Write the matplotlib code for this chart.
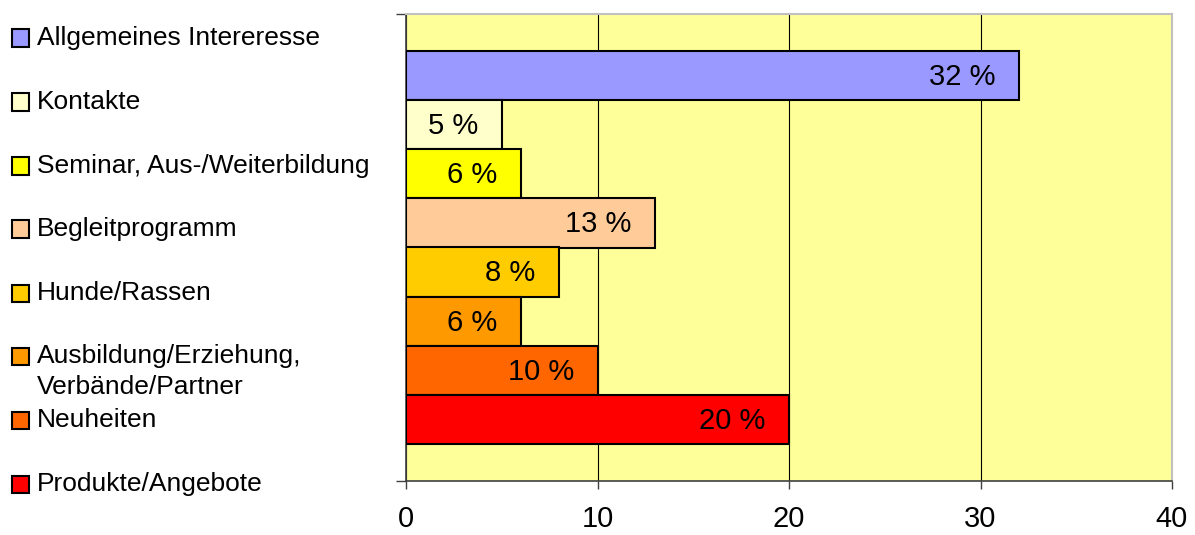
import matplotlib
matplotlib.use("Agg")
import matplotlib.pyplot as plt
from matplotlib.patches import Rectangle

plt.rcParams['font.family'] = ['Liberation Sans', 'DejaVu Sans']

categories = ["Allgemeines Intereresse", "Kontakte", "Seminar, Aus-/Weiterbildung",
              "Begleitprogramm", "Hunde/Rassen", "Ausbildung/Erziehung,\nVerbände/Partner",
              "Neuheiten", "Produkte/Angebote"]
values = [32, 5, 6, 13, 8, 6, 10, 20]
colors = ["#9999FF", "#FFFFCC", "#FFFF00", "#FFCC99", "#FFCC00", "#FF9900", "#FF6600", "#FF0000"]
xticks = [0, 10, 20, 30, 40]

W, H = 1195, 535
fig = plt.figure(figsize=(W / 100, H / 100), dpi=100)
ax = fig.add_axes([406 / W, (H - 481) / H, (1172 - 406) / W, (481 - 14) / H])
ax.set_facecolor("#FFFF99")

n = len(values)
gap = 1.5
ax.set_ylim(0, n + gap)
ax.set_xlim(0, 40)
for i, (v, c) in enumerate(zip(values, colors)):
    yc = gap / 2 + (n - 1 - i) + 0.5
    ax.barh(yc, v, height=1.0, color=c, edgecolor="black", linewidth=1.5, zorder=3)
    ax.annotate(f"{v} %", xy=(v, yc), xytext=(-17, -1), textcoords="offset points",
                ha="right", va="center", fontsize=21, zorder=4)

ax.set_xticks(xticks)
ax.set_xticklabels([str(t) for t in xticks], fontsize=21)
ax.xaxis.grid(True, color="black", linewidth=0.8, zorder=0)
ax.set_axisbelow(True)
ax.tick_params(axis="x", direction="out", length=6, width=1, color="#404040", pad=11)
ax.set_yticks([0, n + gap])
ax.set_yticklabels([])
ax.tick_params(axis="y", direction="out", length=7, width=1, color="#404040")
for s in ["left", "bottom"]:
    ax.spines[s].set_color("#404040")
    ax.spines[s].set_linewidth(1.2)
for s in ["top", "right"]:
    ax.spines[s].set_color("#C0C0C0")
    ax.spines[s].set_linewidth(1.5)

# legend (manual)
leg_y = [38, 102, 166, 229, 293, 356, 420, 484]
line_step = 31
for lab, c, y in zip(categories, colors, leg_y):
    fig.add_artist(Rectangle((12 / W, (H - y - 8.5) / H), 17 / W, 17 / H,
                             transform=fig.transFigure, facecolor=c,
                             edgecolor="black", linewidth=1.5))
    for k, line in enumerate(lab.split("\n")):
        fig.text(37 / W, (H - y - k * line_step) / H, line, fontsize=19,
                 ha="left", va="center")

fig.savefig("out.png", dpi=100)
